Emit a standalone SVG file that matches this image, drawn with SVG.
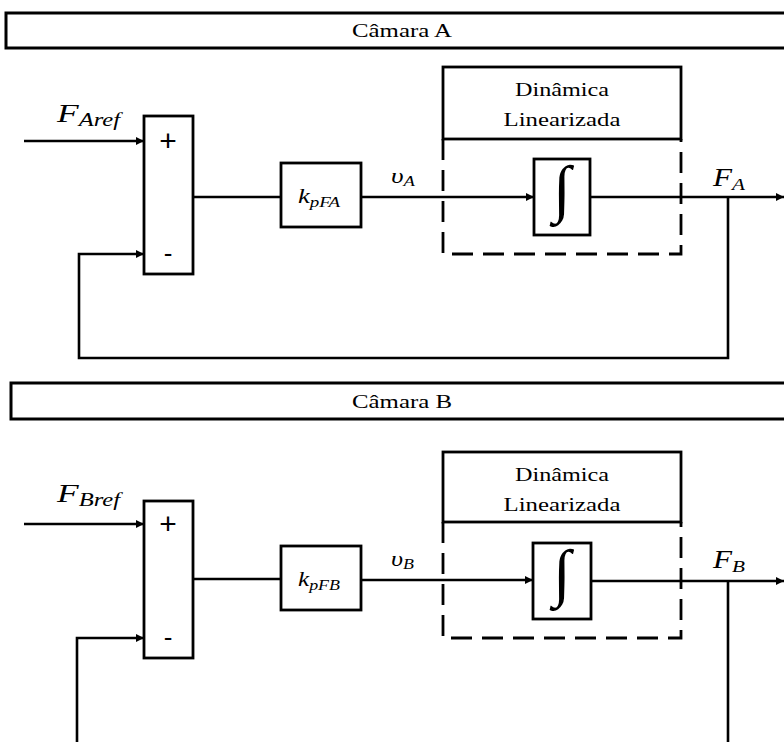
<svg xmlns="http://www.w3.org/2000/svg" width="784" height="742" viewBox="0 0 784 742">
  <defs>
    <marker id="arr" viewBox="0 0 10 10" refX="10" refY="5" markerWidth="10" markerHeight="8" markerUnits="userSpaceOnUse" orient="auto">
      <path d="M0,0 L10,5 L0,10 z" fill="#000"/>
    </marker>
    <style>
      .box { fill: #fff; stroke: #000; stroke-width: 2.8; }
      .hdr { fill: #fff; stroke: #000; stroke-width: 3; }
      .dash { fill: none; stroke: #000; stroke-width: 2.8; stroke-dasharray: 21 10; }
      .solid { fill: #fff; stroke: #000; stroke-width: 2.8; }
      .wire { fill: none; stroke: #000; stroke-width: 2.6; }
    </style>
  </defs>

  <!-- ===== Chamber A ===== -->
  <g id="header-a">
    <rect class="hdr" x="6" y="13" width="790" height="35"/>
    <text x="402" y="37" font-family="'Liberation Serif', 'Times New Roman', serif" font-size="19" text-anchor="middle" textLength="100" lengthAdjust="spacingAndGlyphs">Câmara A</text>
  </g>

  <g id="sum-a" font-family="'Liberation Sans', Arial, sans-serif" text-anchor="middle">
    <rect class="box" x="144" y="116" width="49" height="158"/>
    <text x="168" y="151" font-size="30">+</text>
    <text x="168" y="262" font-size="26">-</text>
  </g>

  <g id="gain-a">
    <rect class="box" x="281" y="163" width="80" height="64"/>
    <text x="298" y="203" font-family="'Liberation Serif', 'Times New Roman', serif" font-style="italic" textLength="42" lengthAdjust="spacingAndGlyphs"><tspan font-size="21">k</tspan><tspan font-size="15" dy="4">pFA</tspan></text>
  </g>

  <g id="plant-a" font-family="'Liberation Serif', 'Times New Roman', serif" font-size="19" text-anchor="middle">
    <rect class="solid" x="443" y="67" width="238" height="72"/>
    <text x="562" y="96" textLength="94" lengthAdjust="spacingAndGlyphs">Dinâmica</text>
    <text x="562" y="126" textLength="117" lengthAdjust="spacingAndGlyphs">Linearizada</text>
    <path class="dash" d="M443,139 V254 H681 V139"/>
  </g>

  <g id="integrator-a">
    <rect class="box" x="534" y="159" width="56" height="76"/>
    <text x="562" y="207" font-family="'Liberation Serif', 'Times New Roman', serif" font-size="50" text-anchor="middle" transform="translate(562,197) scale(1.3,1.27) translate(-562,-197)">∫</text>
  </g>

  <g id="labels-a" font-family="'Liberation Serif', 'Times New Roman', serif" font-style="italic">
    <text x="57" y="122" textLength="63" lengthAdjust="spacingAndGlyphs"><tspan font-size="26">F</tspan><tspan font-size="18" dy="4">Aref</tspan></text>
    <text x="391" y="183" textLength="24" lengthAdjust="spacingAndGlyphs"><tspan font-size="22">υ</tspan><tspan font-size="15" dy="3">A</tspan></text>
    <text x="713" y="186" textLength="32" lengthAdjust="spacingAndGlyphs"><tspan font-size="25">F</tspan><tspan font-size="17" dy="4">A</tspan></text>
  </g>

  <g id="connectors-a">
    <path class="wire" d="M24,141 H144" marker-end="url(#arr)"/>
    <path class="wire" d="M193,197 H281"/>
    <path class="wire" d="M361,197 H534" marker-end="url(#arr)"/>
    <path class="wire" d="M590,197 H784" marker-end="url(#arr)"/>
    <path class="wire" d="M728,197 V358 H79 V254 H144" marker-end="url(#arr)"/>
  </g>

  <!-- ===== Chamber B ===== -->
  <g id="header-b">
    <rect class="hdr" x="11" y="383" width="790" height="36"/>
    <text x="402" y="408" font-family="'Liberation Serif', 'Times New Roman', serif" font-size="19" text-anchor="middle" textLength="100" lengthAdjust="spacingAndGlyphs">Câmara B</text>
  </g>

  <g id="sum-b" font-family="'Liberation Sans', Arial, sans-serif" text-anchor="middle">
    <rect class="box" x="144" y="501" width="49" height="157"/>
    <text x="168" y="534" font-size="30">+</text>
    <text x="168" y="646" font-size="26">-</text>
  </g>

  <g id="gain-b">
    <rect class="box" x="281" y="546" width="80" height="64"/>
    <text x="298" y="586" font-family="'Liberation Serif', 'Times New Roman', serif" font-style="italic" textLength="42" lengthAdjust="spacingAndGlyphs"><tspan font-size="21">k</tspan><tspan font-size="15" dy="4">pFB</tspan></text>
  </g>

  <g id="plant-b" font-family="'Liberation Serif', 'Times New Roman', serif" font-size="19" text-anchor="middle">
    <rect class="solid" x="443" y="452" width="238" height="70"/>
    <text x="562" y="481" textLength="94" lengthAdjust="spacingAndGlyphs">Dinâmica</text>
    <text x="562" y="511" textLength="117" lengthAdjust="spacingAndGlyphs">Linearizada</text>
    <path class="dash" d="M443,522 V638 H681 V522"/>
  </g>

  <g id="integrator-b">
    <rect class="box" x="533" y="543" width="58" height="76"/>
    <text x="562" y="591" font-family="'Liberation Serif', 'Times New Roman', serif" font-size="50" text-anchor="middle" transform="translate(562,581) scale(1.3,1.27) translate(-562,-581)">∫</text>
  </g>

  <g id="labels-b" font-family="'Liberation Serif', 'Times New Roman', serif" font-style="italic">
    <text x="57" y="502" textLength="63" lengthAdjust="spacingAndGlyphs"><tspan font-size="26">F</tspan><tspan font-size="18" dy="4">Bref</tspan></text>
    <text x="391" y="566" textLength="23" lengthAdjust="spacingAndGlyphs"><tspan font-size="22">υ</tspan><tspan font-size="15" dy="3">B</tspan></text>
    <text x="713" y="568" textLength="32" lengthAdjust="spacingAndGlyphs"><tspan font-size="25">F</tspan><tspan font-size="17" dy="4">B</tspan></text>
  </g>

  <g id="connectors-b">
    <path class="wire" d="M24,524 H144" marker-end="url(#arr)"/>
    <path class="wire" d="M193,579 H281"/>
    <path class="wire" d="M361,580 H533" marker-end="url(#arr)"/>
    <path class="wire" d="M591,581 H784" marker-end="url(#arr)"/>
    <path class="wire" d="M728,742 V581"/>
    <path class="wire" d="M77,742 V638 H144" marker-end="url(#arr)"/>
  </g>
</svg>
